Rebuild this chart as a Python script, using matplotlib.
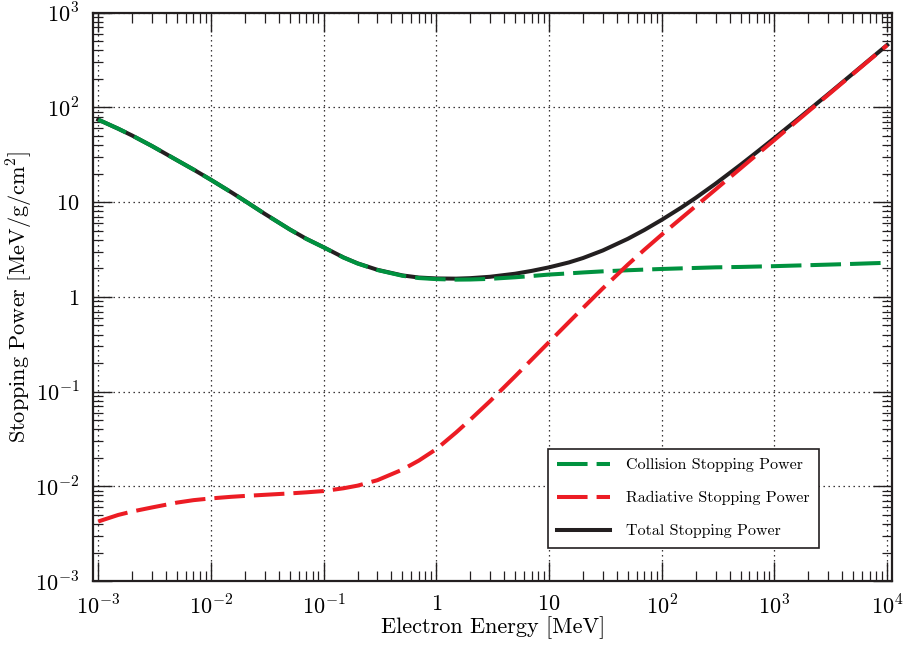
import matplotlib
matplotlib.use("Agg")
import matplotlib.pyplot as plt
from matplotlib.ticker import LogLocator, FixedLocator, FixedFormatter, NullFormatter
import numpy as np

plt.rcParams['font.family'] = ['cmr10', 'DejaVu Serif']
plt.rcParams['mathtext.fontset'] = 'cm'
plt.rcParams['axes.unicode_minus'] = False
plt.rcParams['lines.scale_dashes'] = False

# Electron energy [MeV]
energy = [0.001, 0.0015, 0.002, 0.003, 0.005, 0.007, 0.01, 0.015, 0.02, 0.03,
          0.05, 0.07, 0.1, 0.15, 0.2, 0.3, 0.5, 0.7, 1, 1.5, 2, 3, 5, 7, 10,
          15, 20, 30, 50, 70, 100, 150, 200, 300, 500, 700, 1000, 1500, 2000,
          3000, 5000, 7000, 10000]

# Collision stopping power [MeV/g/cm^2]
collision = [74.3, 59.7, 50.5, 39.1, 27.7, 22.1, 17.2, 12.8, 10.3, 7.52,
             5.15, 4.10, 3.33, 2.60, 2.25, 1.92, 1.67, 1.58, 1.54, 1.52, 1.525,
             1.55, 1.61, 1.66, 1.72, 1.77, 1.81, 1.86, 1.91, 1.94, 1.97, 2.00,
             2.02, 2.05, 2.07, 2.09, 2.11, 2.14, 2.16, 2.19, 2.23, 2.26, 2.29]

# Radiative stopping power [MeV/g/cm^2]
radiative = [4.25e-3, 4.98e-3, 5.42e-3, 5.98e-3, 6.73e-3, 7.14e-3, 7.45e-3,
             7.74e-3, 7.91e-3, 8.13e-3, 8.41e-3, 8.63e-3, 8.91e-3, 9.53e-3,
             0.01016, 0.0116, 0.0150, 0.0187, 0.0247, 0.0371, 0.0505, 0.0794,
             0.145, 0.217, 0.333, 0.541, 0.763, 1.23, 2.19, 3.14, 4.54, 6.81,
             9.07, 13.6, 22.7, 31.8, 45.4, 68.1, 90.8, 136.0, 227.0, 318.0,
             454.0]

# Total stopping power [MeV/g/cm^2]
total = [74.3, 59.7, 50.5, 39.1, 27.7, 22.1, 17.21, 12.81, 10.31, 7.53,
         5.16, 4.11, 3.34, 2.61, 2.26, 1.93, 1.685, 1.60, 1.565, 1.557, 1.576,
         1.63, 1.755, 1.88, 2.05, 2.31, 2.57, 3.09, 4.10, 5.08, 6.51, 8.81,
         11.09, 15.65, 24.77, 33.89, 47.51, 70.24, 92.96, 138.2, 229.2, 320.3,
         456.3]

x_ticks = [1e-3, 1e-2, 1e-1, 1, 10, 1e2, 1e3, 1e4]
x_ticklabels = [r'$10^{-3}$', r'$10^{-2}$', r'$10^{-1}$', r'$1$', r'$10$',
                r'$10^{2}$', r'$10^{3}$', r'$10^{4}$']
y_ticks = [1e-3, 1e-2, 1e-1, 1, 10, 1e2, 1e3]
y_ticklabels = [r'$10^{-3}$', r'$10^{-2}$', r'$10^{-1}$', r'$1$', r'$10$',
                r'$10^{2}$', r'$10^{3}$']

green = '#00923f'
red = '#ec1c24'
black = '#231f20'

fig = plt.figure(figsize=(9.04, 6.46), dpi=100)
ax = fig.add_axes([0.1032, 0.1006, 0.8835, 0.8797])

l_coll, = ax.plot(energy, collision, color=green, lw=2.9, dashes=(22, 6.5),
                  zorder=3, label='Collision Stopping Power')
l_rad, = ax.plot(energy, radiative, color=red, lw=2.9, dashes=(22, 6.5),
                 zorder=3, label='Radiative Stopping Power')
l_tot, = ax.plot(energy, total, color=black, lw=2.9, zorder=2,
                 label='Total Stopping Power')

ax.set_xscale('log')
ax.set_yscale('log')
ax.set_xlim(10 ** -3.044, 10 ** 4.043)
ax.set_ylim(1e-3, 1e3)

ax.xaxis.set_major_locator(FixedLocator(x_ticks))
ax.xaxis.set_major_formatter(FixedFormatter(x_ticklabels))
ax.yaxis.set_major_locator(FixedLocator(y_ticks))
ax.yaxis.set_major_formatter(FixedFormatter(y_ticklabels))
ax.xaxis.set_minor_locator(LogLocator(base=10, subs=np.arange(2, 10), numticks=20))
ax.yaxis.set_minor_locator(LogLocator(base=10, subs=np.arange(2, 10), numticks=20))
ax.xaxis.set_minor_formatter(NullFormatter())
ax.yaxis.set_minor_formatter(NullFormatter())

ax.tick_params(which='both', direction='in', top=True, right=True,
               color=black, labelsize=16)
ax.tick_params(which='major', length=14, width=1.0)
ax.tick_params(which='minor', length=7, width=0.9)
ax.tick_params(axis='x', which='major', pad=10)
ax.tick_params(axis='y', which='major', pad=10)

for sp in ax.spines.values():
    sp.set_linewidth(1.6)
    sp.set_color(black)

ax.grid(True, which='major', color=black, linestyle=(0, (1, 2.6)), linewidth=0.9)
ax.set_axisbelow(True)

ax.set_xlabel('Electron Energy [MeV]', fontsize=16, labelpad=-2)
ax.set_ylabel(r'Stopping Power [MeV/g/cm$^2$]', fontsize=16, labelpad=0)

leg = ax.legend(handles=[l_coll, l_rad, l_tot], loc='lower right',
                bbox_to_anchor=(0.9086, 0.058), borderaxespad=0,
                fontsize=11.5, frameon=True, fancybox=False, framealpha=1,
                edgecolor=black, handlelength=3.3, handletextpad=1.0,
                labelspacing=1.18, borderpad=0.6)
leg.get_frame().set_linewidth(1.2)

fig.savefig('out.png', dpi=100)
